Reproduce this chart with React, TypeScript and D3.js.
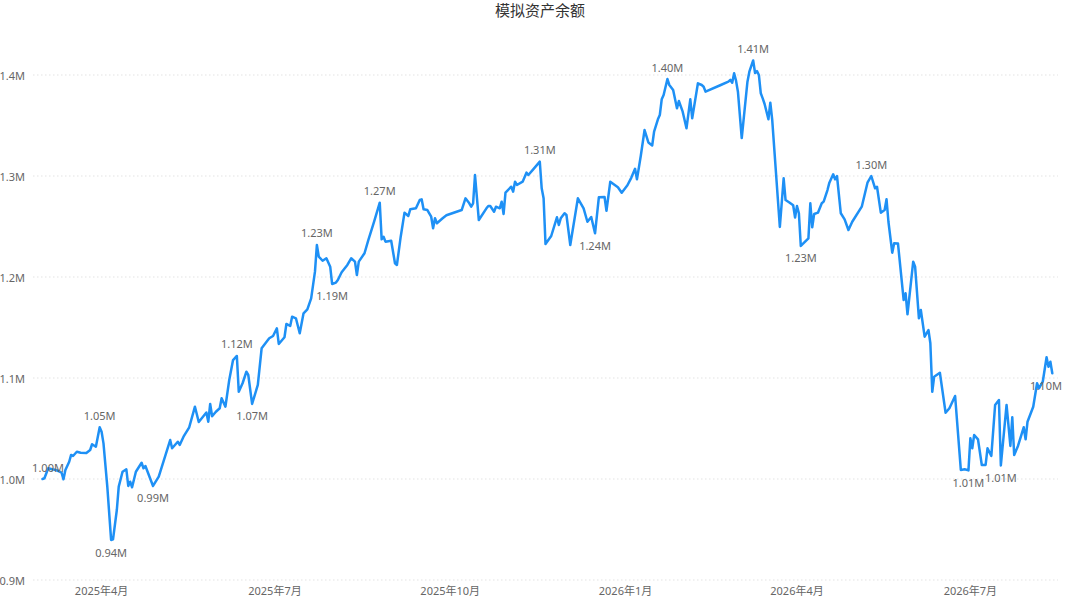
import React from "react";
import * as d3 from "d3";

const title = "模拟资产余额";

const dates = [
  "2025-03-01","2025-03-02","2025-03-04","2025-03-06","2025-03-08","2025-03-10","2025-03-11","2025-03-12","2025-03-13","2025-03-15",
  "2025-03-16","2025-03-17","2025-03-19","2025-03-21","2025-03-24","2025-03-26","2025-03-27","2025-03-29","2025-03-31","2025-04-01",
  "2025-04-02","2025-04-04","2025-04-06","2025-04-07","2025-04-09","2025-04-10","2025-04-12","2025-04-14","2025-04-15","2025-04-16",
  "2025-04-17","2025-04-19","2025-04-22","2025-04-23","2025-04-24","2025-04-28","2025-05-01","2025-05-04","2025-05-07","2025-05-08",
  "2025-05-11","2025-05-12","2025-05-14","2025-05-17","2025-05-20","2025-05-22","2025-05-26","2025-05-27","2025-05-28","2025-05-29",
  "2025-05-31","2025-06-02","2025-06-03","2025-06-05","2025-06-07","2025-06-09","2025-06-11","2025-06-12","2025-06-14","2025-06-16",
  "2025-06-17","2025-06-19","2025-06-22","2025-06-24","2025-06-26","2025-06-28","2025-06-30","2025-07-02","2025-07-03","2025-07-06",
  "2025-07-07","2025-07-09","2025-07-10","2025-07-12","2025-07-14","2025-07-16","2025-07-18","2025-07-20","2025-07-22","2025-07-23",
  "2025-07-24","2025-07-26","2025-07-28","2025-07-30","2025-07-31","2025-08-02","2025-08-03","2025-08-05","2025-08-08","2025-08-10",
  "2025-08-12","2025-08-13","2025-08-14","2025-08-17","2025-08-19","2025-08-22","2025-08-25","2025-08-26","2025-08-27","2025-08-28",
  "2025-08-31","2025-09-02","2025-09-03","2025-09-05","2025-09-07","2025-09-09","2025-09-10","2025-09-13","2025-09-15","2025-09-16",
  "2025-09-17","2025-09-19","2025-09-21","2025-09-22","2025-09-23","2025-09-24","2025-09-27","2025-09-29","2025-10-07","2025-10-09",
  "2025-10-11","2025-10-12","2025-10-13","2025-10-14","2025-10-16","2025-10-20","2025-10-21","2025-10-22","2025-10-24","2025-10-25",
  "2025-10-27","2025-10-28","2025-10-29","2025-10-30","2025-11-02","2025-11-03","2025-11-04","2025-11-05","2025-11-08","2025-11-10",
  "2025-11-11","2025-11-14","2025-11-17","2025-11-18","2025-11-19","2025-11-20","2025-11-23","2025-11-26","2025-11-27","2025-11-28",
  "2025-11-30","2025-12-01","2025-12-03","2025-12-07","2025-12-10","2025-12-12","2025-12-14","2025-12-16","2025-12-18","2025-12-21",
  "2025-12-22","2025-12-24","2025-12-28","2025-12-30","2026-01-02","2026-01-04","2026-01-06","2026-01-07","2026-01-09","2026-01-11",
  "2026-01-13","2026-01-15","2026-01-16","2026-01-18","2026-01-19","2026-01-20","2026-01-21","2026-01-23","2026-01-24","2026-01-26",
  "2026-01-28","2026-01-29","2026-01-31","2026-02-02","2026-02-04","2026-02-05","2026-02-08","2026-02-10","2026-02-11","2026-02-12",
  "2026-02-20","2026-02-24","2026-02-25","2026-02-26","2026-02-27","2026-02-28","2026-03-01","2026-03-03","2026-03-06","2026-03-07",
  "2026-03-09","2026-03-10","2026-03-11","2026-03-12","2026-03-13","2026-03-14","2026-03-15","2026-03-17","2026-03-18","2026-03-19",
  "2026-03-23","2026-03-25","2026-03-26","2026-03-28","2026-03-30","2026-03-31","2026-04-01","2026-04-02","2026-04-03","2026-04-07",
  "2026-04-08","2026-04-09","2026-04-10","2026-04-12","2026-04-14","2026-04-15","2026-04-17","2026-04-18","2026-04-20","2026-04-21",
  "2026-04-22","2026-04-24","2026-04-26","2026-04-28","2026-04-30","2026-05-05","2026-05-08","2026-05-10","2026-05-12","2026-05-13",
  "2026-05-15","2026-05-17","2026-05-18","2026-05-19","2026-05-21","2026-05-22","2026-05-24","2026-05-27","2026-05-28","2026-05-29",
  "2026-06-01","2026-06-02","2026-06-04","2026-06-05","2026-06-07","2026-06-09","2026-06-10","2026-06-11","2026-06-12","2026-06-15",
  "2026-06-18","2026-06-20","2026-06-23","2026-06-26","2026-06-28","2026-06-30","2026-07-01","2026-07-02","2026-07-03","2026-07-05",
  "2026-07-07","2026-07-09","2026-07-10","2026-07-12","2026-07-14","2026-07-16","2026-07-17","2026-07-20","2026-07-22","2026-07-23",
  "2026-07-24","2026-07-26","2026-07-29","2026-07-30","2026-07-31","2026-08-03","2026-08-05","2026-08-06","2026-08-08","2026-08-10",
  "2026-08-11","2026-08-12","2026-08-13",
];

const values = [
  1000000,1000700,1010600,1009600,1008900,1007200,1006200,999700,1008900,1017100,
  1023800,1022800,1027000,1026000,1025800,1028700,1034400,1032000,1051200,1046800,
  1035300,992400,939600,940200,969300,992400,1007200,1009600,993100,997300,
  991800,1007200,1016100,1010600,1012900,993100,1002300,1020500,1038600,1030400,
  1036900,1033700,1041900,1051200,1071600,1056400,1065800,1056700,1074300,1062100,
  1066600,1070000,1079900,1071600,1098000,1117800,1121800,1086400,1094800,1106200,
  1103000,1074300,1093100,1129400,1134400,1139300,1141600,1149200,1133700,1140300,
  1153500,1151500,1160700,1159100,1144300,1164100,1168000,1178900,1205300,1231700,
  1220100,1216100,1218500,1210200,1193100,1194500,1197000,1204700,1211900,1218500,
  1215200,1202000,1215200,1223500,1236600,1254700,1273600,1237300,1239900,1235000,
  1235900,1213600,1211900,1239900,1263700,1260400,1267000,1268000,1276200,1276900,
  1267000,1266300,1259700,1248200,1258100,1253200,1258100,1261100,1266300,1277900,
  1273000,1269600,1273000,1301000,1256400,1268000,1270300,1270300,1264600,1269600,
  1268000,1274600,1262400,1283500,1289400,1284500,1294400,1291100,1294400,1303300,
  1301000,1307600,1314200,1287800,1277900,1232700,1240600,1259100,1251500,1258100,
  1263100,1261400,1231700,1277900,1268000,1254700,1259400,1243300,1278900,1279200,
  1265600,1294400,1288900,1283500,1290800,1298200,1307100,1296700,1319800,1345500,
  1333200,1330200,1343900,1356100,1360400,1375900,1380200,1396000,1390100,1385100,
  1367000,1374300,1363700,1347200,1375900,1357100,1391800,1390100,1388400,1383500,
  1390100,1393400,1395100,1392400,1401700,1394400,1383500,1337600,1393400,1403300,
  1414400,1402000,1403800,1400000,1381900,1376900,1371300,1356200,1372600,1355500,
  1249500,1297700,1276200,1273800,1271000,1258900,1270300,1263100,1230700,1238300,
  1273000,1249200,1262400,1263700,1273000,1274600,1286100,1293400,1301700,1296700,
  1300000,1263100,1257100,1246500,1254700,1269600,1293400,1300000,1287800,1289400,
  1263700,1266300,1276900,1254700,1224100,1233400,1233200,1177200,1183900,1163100,
  1215200,1210200,1159100,1167300,1140900,1147500,1134400,1086400,1101300,1105200,
  1065600,1070000,1082200,1009000,1009600,1008500,1040300,1030400,1043600,1039300,
  1013900,1013900,1030400,1022800,1073300,1078200,1013400,1073300,1032700,1061100,
  1023800,1032700,1051200,1039300,1056700,1071600,1094800,1089800,1096300,1120500,
  1111200,1116100,1104700,
];

const yTicks = [900000, 1000000, 1100000, 1200000, 1300000, 1400000];
const yTickLabels = ["0.9M", "1.0M", "1.1M", "1.2M", "1.3M", "1.4M"];
const xTickDates = ["2025-04-01", "2025-07-01", "2025-10-01", "2026-01-01", "2026-04-01", "2026-07-01"];
const xTickLabels = ["2025年4月", "2025年7月", "2025年10月", "2026年1月", "2026年4月", "2026年7月"];
const xDomain = ["2025-02-24", "2026-08-16"];
const yDomain = [900000, 1400000];

const labelDates = [
  "2025-03-01", "2025-03-31", "2025-04-06", "2025-04-28", "2025-06-11", "2025-06-19",
  "2025-07-23", "2025-07-31", "2025-08-25", "2025-11-17", "2025-12-16", "2026-01-23",
  "2026-03-09", "2026-04-03", "2026-05-10", "2026-06-30", "2026-07-17", "2026-08-13",
];
const labelSides = [
  "above", "above", "below", "below", "above", "below",
  "above", "below", "above", "above", "below", "above",
  "above", "below", "above", "below", "below", "below",
];

const FONT = '"Segoe UI", "Noto Sans", "Noto Sans CJK SC", sans-serif';

export default function App() {
  const W = 1080;
  const H = 604;
  const left = 33;
  const right = 1058;
  const parse = d3.utcParse("%Y-%m-%d");
  const x = d3.scaleUtc().domain(xDomain.map((d) => parse(d) as Date)).range([left, right]);
  const y = d3.scaleLinear().domain(yDomain).range([580, 75]);

  const pts = dates.map((d, i) => ({ date: parse(d) as Date, v: values[i] }));
  const line = d3
    .line<{ date: Date; v: number }>()
    .x((d) => x(d.date))
    .y((d) => y(d.v));

  const fmt = (v: number) => (v / 1e6).toFixed(2) + "M";
  const labelHalf = 15;

  return (
    <svg
      width={W}
      height={H}
      style={{ position: "absolute", left: 0, top: 0, background: "#fff" }}
      fontFamily={FONT}
    >
      <text x={540} y={10} textAnchor="middle" dominantBaseline="central" fontSize={15} fill="#333">
        {title}
      </text>
      {yTicks.map((t, i) => (
        <g key={t}>
          <line
            x1={left}
            x2={right}
            y1={y(t)}
            y2={y(t)}
            stroke="#e3e3e3"
            strokeWidth={1}
            strokeDasharray="1.5,2.5"
          />
          <text x={25} y={y(t)} textAnchor="end" dominantBaseline="central" fontSize={11} fill="#666">
            {yTickLabels[i]}
          </text>
        </g>
      ))}
      {xTickDates.map((d, i) => (
        <text
          key={d}
          x={x(parse(d) as Date)}
          y={590}
          textAnchor="middle"
          dominantBaseline="central"
          fontSize={11}
          fill="#666"
        >
          {xTickLabels[i]}
        </text>
      ))}
      <path
        d={line(pts) || ""}
        fill="none"
        stroke="#1e90f5"
        strokeWidth={2.5}
        strokeLinejoin="round"
        strokeLinecap="round"
      />
      {labelDates.map((d, i) => {
        const idx = dates.indexOf(d);
        const p = pts[idx];
        const px = Math.max(left + labelHalf, Math.min(1061 - labelHalf, x(p.date)));
        const py = y(p.v) + (labelSides[i] === "above" ? -12 : 12);
        return (
          <text
            key={d}
            x={px}
            y={py}
            textAnchor="middle"
            dominantBaseline="central"
            fontSize={11}
            fill="#666"
          >
            {fmt(p.v)}
          </text>
        );
      })}
    </svg>
  );
}
